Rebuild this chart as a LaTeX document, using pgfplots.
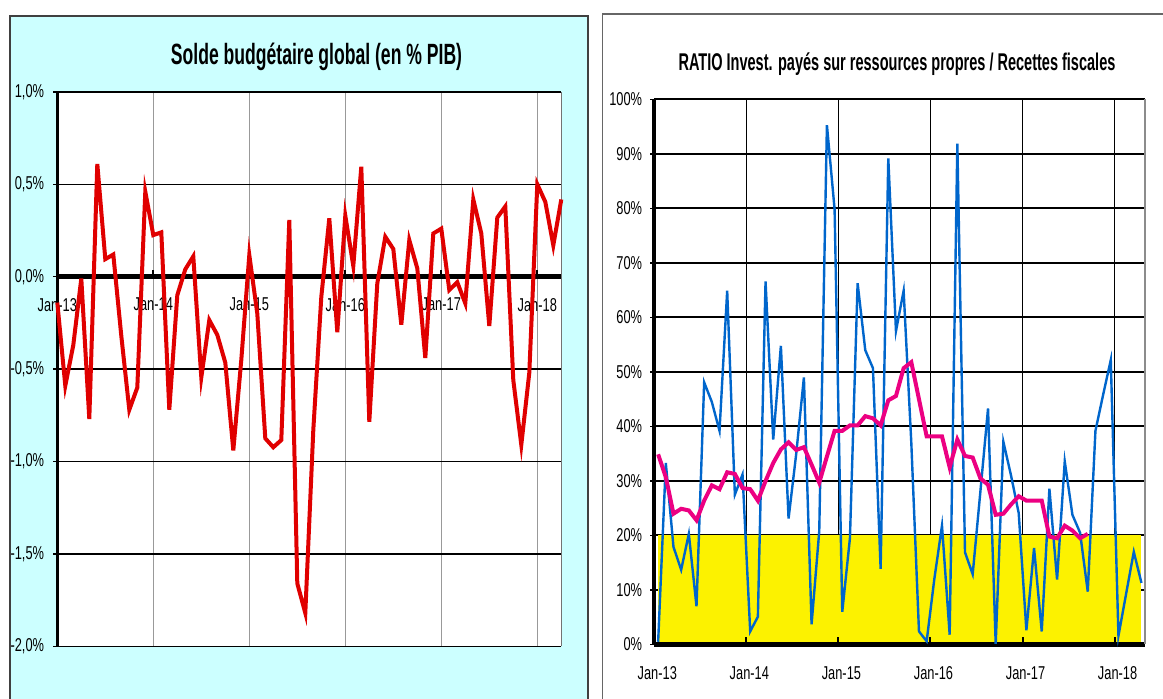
\documentclass[border=0pt]{standalone}
\usepackage{fontspec}
\setmainfont{Liberation Sans}
\newfontfamily\tickfont[FakeStretch=0.69]{Liberation Sans}
\newfontfamily\titlefont[FakeStretch=0.6]{Liberation Sans}
\usepackage{pgfplots}
\pgfplotsset{compat=1.18}

\definecolor{panelcyan}{RGB}{204,255,255}
\definecolor{soldered}{RGB}{224,0,0}
\definecolor{invblue}{RGB}{0,102,204}
\definecolor{avgpink}{RGB}{236,0,130}
\definecolor{bandyellow}{RGB}{252,242,0}

\pgfplotsset{
  ticklbl/.style={font=\tickfont\fontsize{18.6bp}{19bp}\selectfont, inner sep=0pt},
}

\begin{document}
\begin{tikzpicture}
\useasboundingbox (0bp,0bp) rectangle (1163bp,699bp);
\fill[white] (0bp,0bp) rectangle (1163bp,699bp);
% panel frames
\filldraw[fill=panelcyan, draw=black!75, line width=1.3bp] (10bp,683bp) rectangle (588bp,-20bp);
\draw[black!60, line width=1.3bp] (602.5bp,685bp) rectangle (1180bp,-20bp);

\node[font=\titlefont\bfseries\fontsize{29.3bp}{30bp}\selectfont, anchor=base, inner sep=0pt]
  at (316.5bp,634bp) {Solde budgétaire global (en \% PIB)};
\node[font=\titlefont\bfseries\fontsize{24.2bp}{25bp}\selectfont, anchor=base, inner sep=0pt]
  at (897bp,628.3bp) {RATIO Invest. payés sur ressources propres / Recettes fiscales};

% ---- left: solde budgetaire
\begin{axis}[
  at={(57.3bp,52.7bp)}, anchor=south west,
  scale only axis, width=504bp, height=554.4bp,
  xmin=0, xmax=63, ymin=-2, ymax=1,
  clip=false,
  axis background/.style={fill=white},
  axis line style={draw=none},
  major tick length=0pt,
  xtick={0,12,24,36,48,60},
  xticklabels={Jan-13,Jan-14,Jan-15,Jan-16,Jan-17,Jan-18},
  ytick={-2,-1.5,-1,-0.5,0,0.5,1},
  yticklabels={{-2,0\%},{-1,5\%},{-1,0\%},{-0,5\%},{0,0\%},{0,5\%},{1,0\%}},
  xmajorgrids, ymajorgrids,
  x grid style={black!40, line width=1bp},
  y grid style={black, line width=1.3bp},
  xticklabel style={ticklbl, anchor=north, yshift=348.3bp},
  yticklabel style={ticklbl, anchor=east, xshift=-13bp},
]
\draw[black, line width=5.3bp] (axis cs:0,0) -- (axis cs:63,0);
\pgfplotsinvokeforeach{12,24,36,48,60}{
  \draw[black, line width=2bp] (axis cs:#1,0) -- ++(0bp,7bp);
}
\pgfplotsinvokeforeach{-2,-1.5,-1,-0.5,0,0.5,1}{
  \draw[black, line width=1.5bp] (axis cs:0,#1) -- ++(-4bp,0bp);
}
\draw[black, line width=3.5bp] (axis cs:0,-2) -- (axis cs:0,1);
\draw[black!55, line width=1.5bp] (axis cs:63,-2) -- (axis cs:63,1);
\addplot[soldered, line width=4bp] coordinates {
  (0,-0.14) (1,-0.59) (2,-0.37) (3,-0.01) (4,-0.77) (5,0.61) (6,0.095) (7,0.12)
  (8,-0.32) (9,-0.72) (10,-0.60) (11,0.46) (12,0.225) (13,0.24) (14,-0.72) (15,-0.10)
  (16,0.04) (17,0.11) (18,-0.545) (19,-0.235) (20,-0.315) (21,-0.465) (22,-0.94) (23,-0.45)
  (24,0.117) (25,-0.20) (26,-0.875) (27,-0.923) (28,-0.884) (29,0.307) (30,-1.66) (31,-1.82)
  (32,-0.83) (33,-0.11) (34,0.316) (35,-0.30) (36,0.33) (37,0.058) (38,0.595) (39,-0.785)
  (40,-0.036) (41,0.216) (42,0.15) (43,-0.26) (44,0.198) (45,0.045) (46,-0.44) (47,0.234)
  (48,0.26) (49,-0.072) (50,-0.03) (51,-0.144) (52,0.418) (53,0.234) (54,-0.267) (55,0.32)
  (56,0.38) (57,-0.56) (58,-0.91) (59,-0.52) (60,0.50) (61,0.405) (62,0.17) (63,0.418)
};
\end{axis}

% ---- right: ratio invest / recettes
\begin{axis}[
  at={(654.3bp,54.5bp)}, anchor=south west,
  scale only axis, width=491bp, height=545bp,
  xmin=0, xmax=64, ymin=0, ymax=100,
  clip=false,
  axis line style={draw=none},
  major tick length=0pt,
  xtick={0,12,24,36,48,60},
  xticklabels={Jan-13,Jan-14,Jan-15,Jan-16,Jan-17,Jan-18},
  ytick={0,10,...,100},
  yticklabels={0\%,10\%,20\%,30\%,40\%,50\%,60\%,70\%,80\%,90\%,100\%},
  xmajorgrids, ymajorgrids,
  x grid style={black, line width=1bp},
  y grid style={black, line width=2bp},
  xticklabel style={ticklbl, anchor=north, yshift=-22.2bp, xshift=3bp},
  yticklabel style={ticklbl, anchor=east, xshift=-12bp},
]
% zone < 20%
\addplot[fill=bandyellow, draw=none] coordinates {(0.5,20) (63.5,20)} \closedcycle;
\draw[black, line width=5bp] (axis cs:0,0) -- (axis cs:64,0);
\pgfplotsinvokeforeach{12,24,36,48,60}{
  \draw[black, line width=2bp] (axis cs:#1,0) -- ++(0bp,7bp);
}
\pgfplotsinvokeforeach{0,10,20,30,40,50,60,70,80,90,100}{
  \draw[black, line width=1.5bp] (axis cs:0,#1) -- ++(-4bp,0bp);
}
\draw[black, line width=4bp] (axis cs:0,0) -- (axis cs:0,100);
\draw[black!45, line width=2bp] (axis cs:64,0) -- (axis cs:64,100);
% ratio mensuel
\addplot[invblue, line width=2.4bp] coordinates {
  (0.5,0.5) (1.5,33.3) (2.5,17.9) (3.5,13.7) (4.5,20.3) (5.5,7.0) (6.5,48.1) (7.5,44.5)
  (8.5,39.2) (9.5,64.9) (10.5,27.5) (11.5,31.2) (12.5,2.4) (13.5,5.1) (14.5,66.6) (15.5,37.6)
  (16.5,54.8) (17.5,23.1) (18.5,35.0) (19.5,49.0) (20.5,3.7) (21.5,20.8) (22.5,95.3) (23.5,79.9)
  (24.5,6.0) (25.5,19.5) (26.5,66.3) (27.5,54.0) (28.5,50.7) (29.5,13.9) (30.5,89.2) (31.5,57.5)
  (32.5,64.9) (33.5,37.0) (34.5,2.4) (35.5,0.6) (36.5,12.0) (37.5,21.8) (38.5,1.8) (39.5,91.9)
  (40.5,16.9) (41.5,12.9) (42.5,28.0) (43.5,43.3) (44.5,0.1) (45.5,37.2) (46.5,31.0) (47.5,24.1)
  (48.5,2.6) (49.5,17.7) (50.5,2.4) (51.5,28.6) (52.5,11.9) (53.5,33.6) (54.5,23.8) (55.5,20.5)
  (56.5,9.7) (57.5,39.2) (58.5,45.8) (59.5,52.2) (60.5,1.6) (61.5,9.3) (62.5,17.0) (63.5,11.3)
};
% moyenne mobile
\addplot[avgpink, line width=4bp] coordinates {
  (0.5,34.9) (1.5,30.7) (2.5,24.0) (3.5,24.9) (4.5,24.6) (5.5,22.8) (6.5,26.4) (7.5,29.2)
  (8.5,28.5) (9.5,31.6) (10.5,31.3) (11.5,28.7) (12.5,28.5) (13.5,26.4) (14.5,30.0) (15.5,33.3)
  (16.5,35.8) (17.5,37.1) (18.5,35.7) (19.5,36.2) (20.5,33.0) (21.5,29.7) (22.5,34.5) (23.5,39.2)
  (24.5,39.2) (25.5,40.2) (26.5,40.2) (27.5,41.9) (28.5,41.5) (29.5,40.2) (30.5,44.8) (31.5,45.6)
  (32.5,50.7) (33.5,51.8) (34.5,45.0) (35.5,38.2) (36.5,38.2) (37.5,38.2) (38.5,32.5) (39.5,37.6)
  (40.5,34.6) (41.5,34.3) (42.5,30.5) (43.5,29.3) (44.5,23.8) (45.5,24.0) (46.5,25.7) (47.5,27.2)
  (48.5,26.4) (49.5,26.4) (50.5,26.4) (51.5,19.8) (52.5,19.5) (53.5,21.8) (54.5,20.9) (55.5,19.5)
  (56.5,20.3)
};
\end{axis}
\end{tikzpicture}
\end{document}
